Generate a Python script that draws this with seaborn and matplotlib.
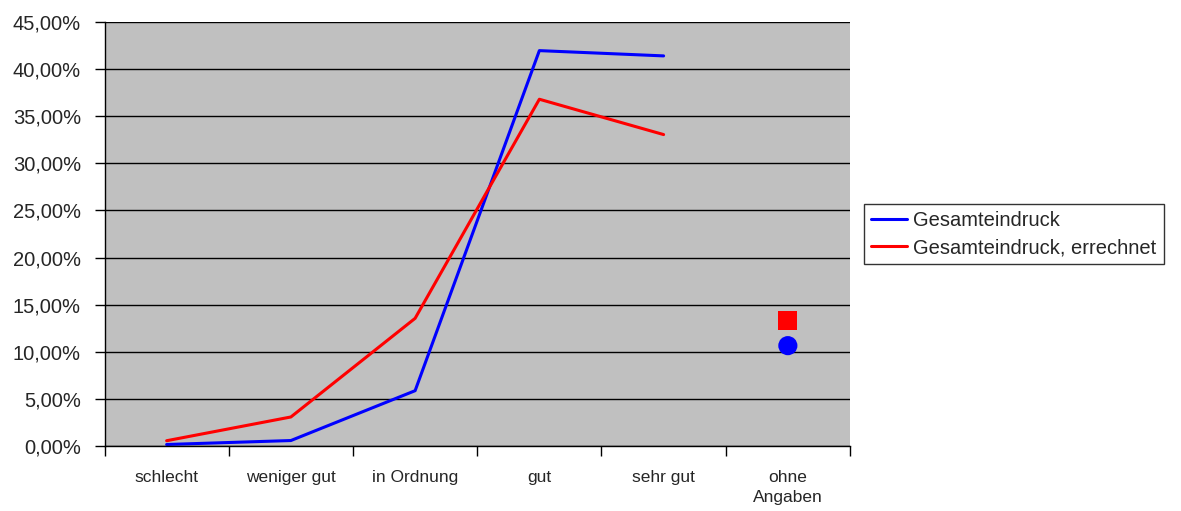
import numpy as np
import pandas as pd
import seaborn as sns
import matplotlib.pyplot as plt
from matplotlib.ticker import FuncFormatter, MultipleLocator

categories = ['schlecht', 'weniger gut', 'in Ordnung', 'gut', 'sehr gut', 'ohne\nAngaben']
series_names = ['Gesamteindruck', 'Gesamteindruck, errechnet']
gesamt = [0.16, 0.58, 5.87, 41.96, 41.40]
errechnet = [0.56, 3.08, 13.55, 36.80, 33.05]
ohne_angaben = [10.65, 13.30]
colors = ['#0000FF', '#FF0000']

sns.set_style('white')
plt.rcParams['font.family'] = ['Liberation Sans', 'DejaVu Sans']

rated = pd.DataFrame({
    'pos': list(range(len(gesamt))) * 2,
    'value': gesamt + errechnet,
    'series': [series_names[0]] * len(gesamt) + [series_names[1]] * len(errechnet),
})
missing = pd.DataFrame({
    'pos': [len(categories) - 1] * 2,
    'value': ohne_angaben,
    'series': series_names,
})

fig = plt.figure(figsize=(11.81, 5.11), dpi=100)
ax = fig.add_axes([0.0885, 0.1272, 0.6312, 0.8298])
ax.set_facecolor('#C0C0C0')

sns.lineplot(data=rated, x='pos', y='value', hue='series', palette=colors,
             linewidth=2.2, ax=ax, legend=True)
sns.scatterplot(data=missing, x='pos', y='value', hue='series', palette=colors,
                style='series', markers=['o', 's'], s=190, linewidth=0,
                ax=ax, legend=False)

ax.set_xlim(-0.5, len(categories) - 0.5)
ax.set_ylim(0, 45)
ax.yaxis.set_major_locator(MultipleLocator(5))
ax.yaxis.set_major_formatter(FuncFormatter(lambda v, _: f'{v:.2f}'.replace('.', ',') + '%'))
ax.grid(axis='y', color='black', linewidth=1.0)
ax.set_axisbelow(True)

ax.set_xticks(range(len(categories)))
ax.set_xticklabels(categories, fontsize=12.5, linespacing=1.45)
ax.set_xticks(np.arange(-0.5, len(categories)), minor=True)
ax.tick_params(axis='x', which='major', length=0, pad=17)
ax.tick_params(axis='x', which='minor', length=7, width=1, color='black', direction='out')
ax.tick_params(axis='y', length=7, width=1, color='black', direction='out', labelsize=14.5, pad=10)
ax.xaxis.set_ticks_position('bottom')
ax.yaxis.set_ticks_position('left')
ax.set_xlabel('')
ax.set_ylabel('')

for side in ['top', 'right']:
    ax.spines[side].set_visible(False)
for side in ['left', 'bottom']:
    ax.spines[side].set_color('black')
    ax.spines[side].set_linewidth(1.0)

handles, labels = ax.get_legend_handles_labels()
ax.get_legend().remove()
leg = fig.legend(handles, labels, loc='center left', bbox_to_anchor=(0.7316, 0.542),
                 borderaxespad=0, fontsize=14.5, frameon=True, fancybox=False,
                 edgecolor='black', handlelength=1.8, handletextpad=0.3,
                 borderpad=0.35, labelspacing=0.4)
leg.get_frame().set_linewidth(1.0)

fig.savefig('out.png', dpi=100)
